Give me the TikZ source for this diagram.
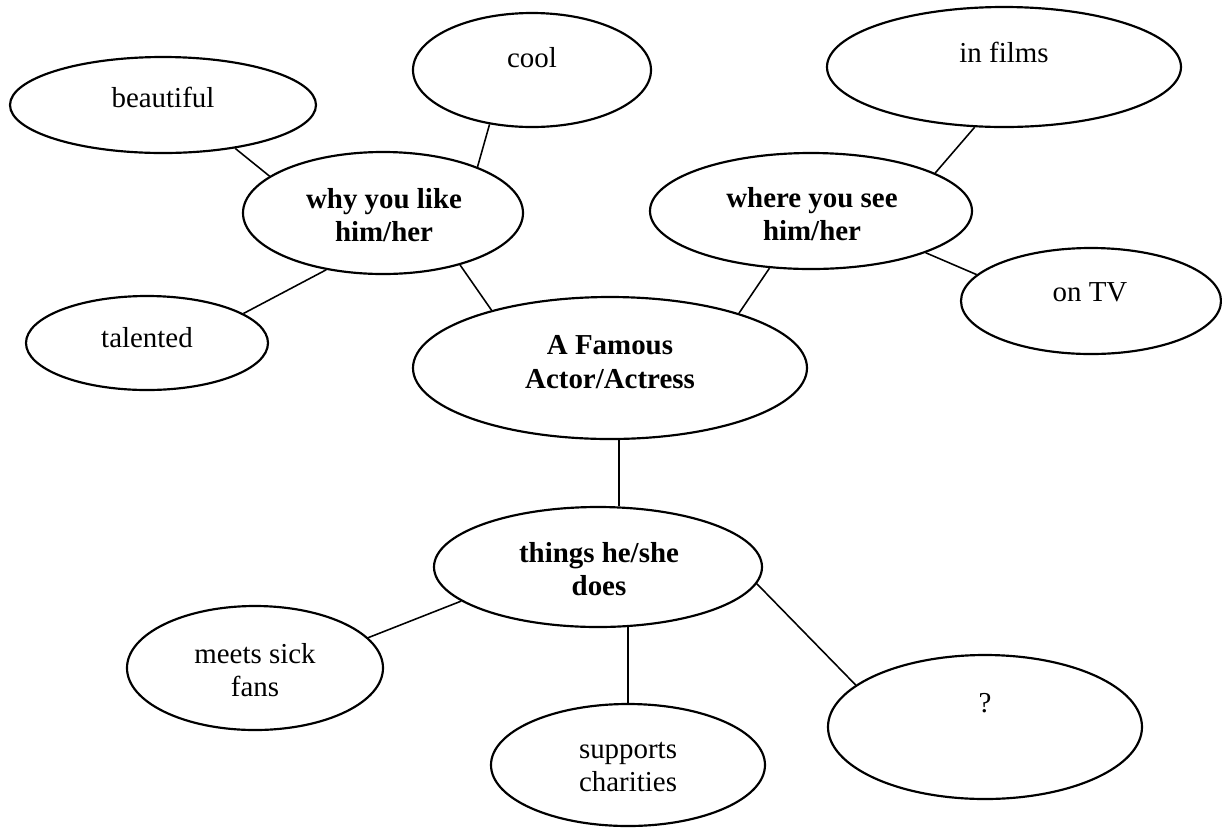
\documentclass[tikz,border=0pt]{standalone}
\usepackage{fontspec}
\setmainfont{Liberation Serif}
\usetikzlibrary{shapes.geometric}
\begin{document}
\begin{tikzpicture}[x=0.415pt,y=-0.415pt,
  bub/.style 2 args={draw, ellipse, line width=0.9pt, inner sep=0pt,
    minimum width={2*#1*0.415pt}, minimum height={2*#2*0.415pt}},
  lbl/.style={font=\fontsize{12}{14}\selectfont, align=center, inner sep=0pt},
  blbl/.style={lbl, font=\fontsize{12}{14}\selectfont\bfseries},
  con/.style={line width=0.65pt}]
\useasboundingbox (0,0) rectangle (1222,827);
% ellipses
\node[bub={153}{48}] (beautiful) at (163,105) {};
\node[bub={119}{57}] (cool) at (532,70) {};
\node[bub={140}{61}] (why) at (383,213) {};
\node[bub={121}{47}] (talented) at (147,343) {};
\node[bub={177}{60}] (films) at (1004,67) {};
\node[bub={161}{58}] (where) at (811,211) {};
\node[bub={130}{53}] (tv) at (1091,301) {};
\node[bub={197}{71}] (famous) at (610,368) {};
\node[bub={164}{60}] (things) at (598,567) {};
\node[bub={128}{62}] (meets) at (255,668) {};
\node[bub={137}{61}] (supports) at (628,765) {};
\node[bub={157}{72}] (qm) at (985,727) {};
% texts
\node[lbl] (tbeautiful) at (163,97) {beautiful};
\node[lbl] (tcool) at (532,58) {cool};
\node[blbl] (twhy) at (384,215) {why you like\\him/her};
\node[lbl] (ttalented) at (147,338) {talented};
\node[lbl] (tfilms) at (1004,52) {in films};
\node[blbl] (twhere) at (812,214) {where you see\\him/her};
\node[lbl] (ttv) at (1090,292) {on TV};
\node[blbl] (tfamous) at (610,362) {A Famous\\Actor/Actress};
\node[blbl] (tthings) at (599,569) {things he/she\\does};
\node[lbl] (tmeets) at (255,670) {meets sick\\fans};
\node[lbl] (tsupports) at (628,767) {supports\\charities};
\node[lbl] (tqm) at (985,703) {?};
% connectors
\draw[con] (beautiful.-31.6) -- (why.162);
\draw[con] (cool.-128.5) -- (why.26.6);
\draw[con] (talented.17.4) -- (why.-135);
\draw[con] (why.-34.4) -- (famous.154.6);
\draw[con] (where.-126.7) -- (famous.23.4);
\draw[con] (where.17.9) -- (films.-116.9);
\draw[con] (where.-20.2) -- (tv.167);
\draw[con] (famous.-83) -- (famous.-83 |- things.70);
\draw[con] (things.-166.4) -- (meets.15.9);
\draw[con] (things.-63 -| supports.north) -- (supports.north);
\draw[con] (things.-6.5) -- (qm.162.1);
\end{tikzpicture}
\end{document}
